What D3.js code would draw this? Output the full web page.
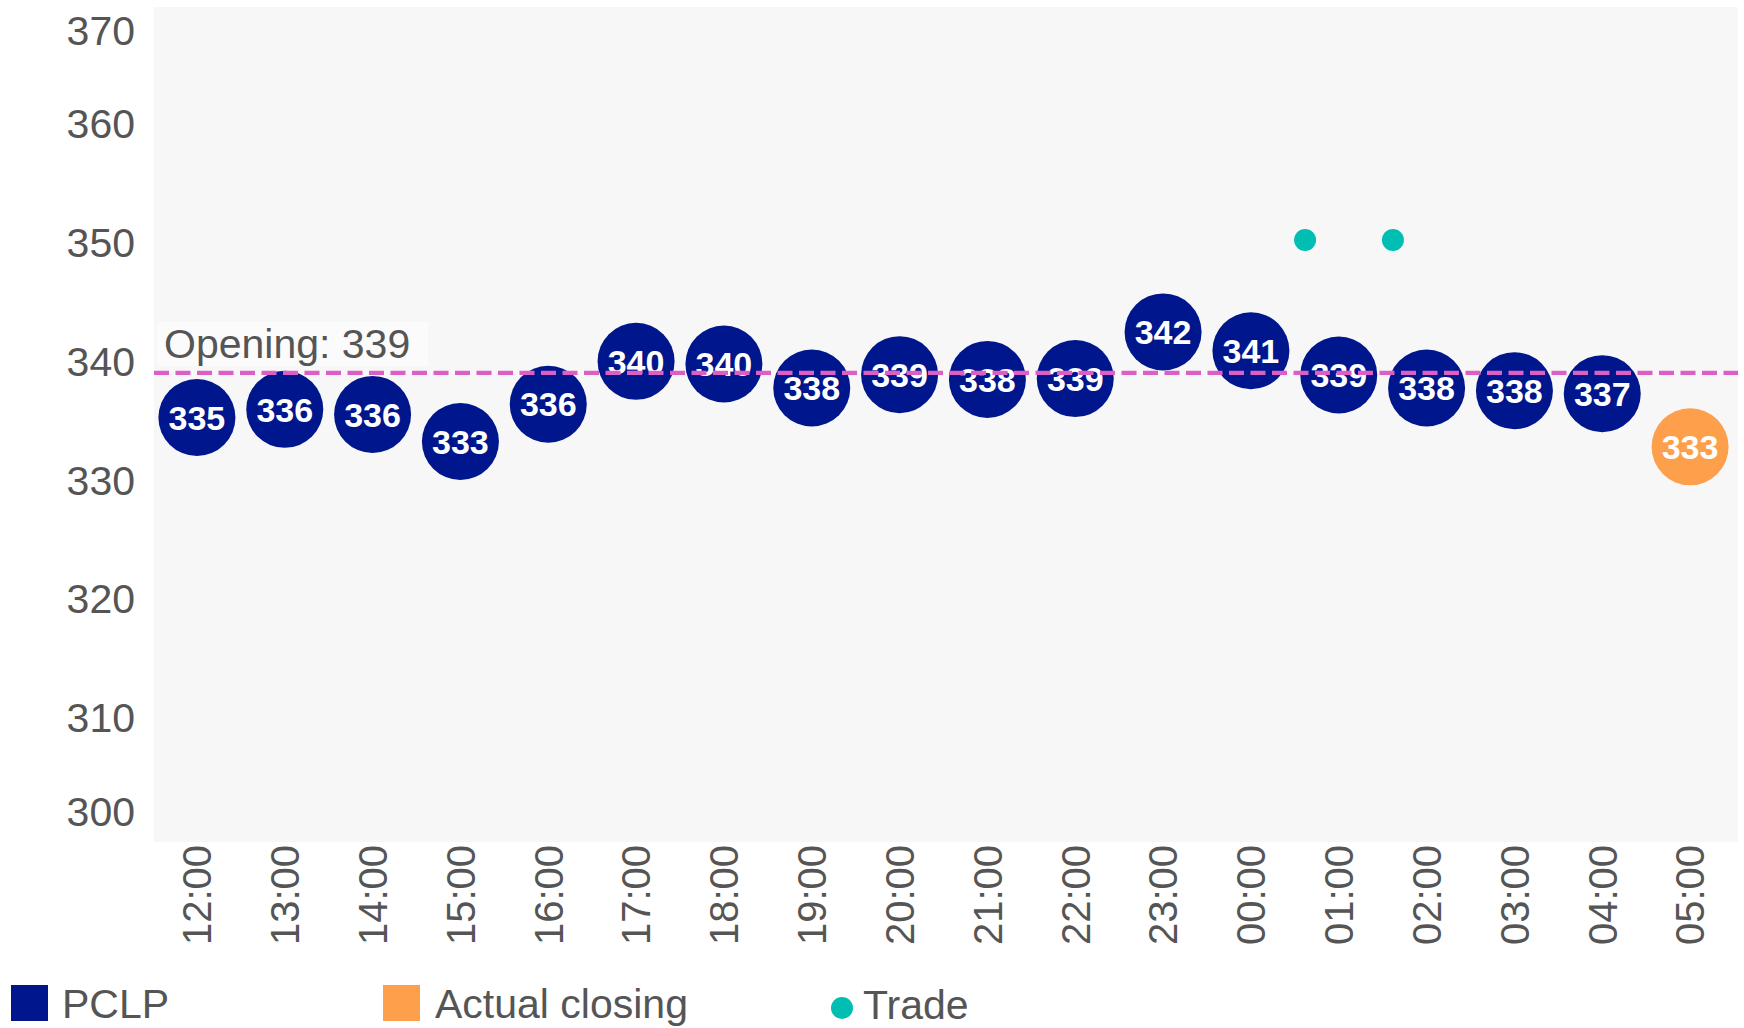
<!DOCTYPE html>
<html>
<head>
<meta charset="utf-8">
<script src="https://cdn.jsdelivr.net/npm/d3@7"></script>
<style>
  html, body { margin: 0; padding: 0; background: #ffffff; }
  svg { display: block; font-family: "Liberation Sans", Arial, sans-serif; }
</style>
</head>
<body>
<svg id="chart" width="1744" height="1028"></svg>
<script>
// ---- data ----
const categories = ["12:00","13:00","14:00","15:00","16:00","17:00","18:00","19:00","20:00","21:00","22:00","23:00","00:00","01:00","02:00","03:00","04:00","05:00"];
const pclpValues = [335.24, 335.93, 335.5, 333.22, 336.36, 339.97, 339.75, 337.73, 338.85, 338.45, 338.52, 342.45, 340.86, 338.82, 337.73, 337.5, 337.25, null];
const closingValues = [null, null, null, null, null, null, null, null, null, null, null, null, null, null, null, null, null, 332.77];
const tradeTimes = ["00:37", "01:37"];
const tradeValues = [350.2, 350.2];
const openingValue = 339;
const yTicks = [300, 310, 320, 330, 340, 350, 360, 370];
const legendItems = ["PCLP", "Actual closing", "Trade"];

// ---- styles ----
const C_PCLP = "#00168c", C_CLOSE = "#fea04b", C_TRADE = "#00bfb2", C_OPEN = "#dd5fc6", C_TEXT = "#555555";

const svg = d3.select("#chart");
const plot = { left: 154, right: 1738, top: 7, bottom: 842 };

const x = d3.scaleBand().domain(categories).range([153, 1734]).padding(0);
const y = d3.scaleLinear().domain([300, 370]).range([835.8, 4.9]);
const cx = c => x(c) + x.bandwidth() / 2;

// background
svg.append("rect")
  .attr("x", plot.left).attr("y", plot.top)
  .attr("width", plot.right - plot.left).attr("height", plot.bottom - plot.top)
  .attr("fill", "#f7f7f7");

// y axis
const yAxis = svg.append("g")
  .attr("transform", `translate(${plot.left},0)`)
  .call(d3.axisLeft(y).tickValues(yTicks).tickSize(0).tickPadding(19).tickFormat(d3.format("d")));
yAxis.select(".domain").remove();
yAxis.selectAll("text")
  .attr("fill", C_TEXT).style("font-size", "41px").style("font-family", "Liberation Sans, Arial, sans-serif")
  .attr("dy", "0.35em");
yAxis.selectAll(".tick").filter(d => d === 370).select("text").attr("y", 25);
yAxis.selectAll(".tick").filter(d => d === 300).select("text").attr("y", -25);

// x axis
const xAxis = svg.append("g")
  .attr("transform", `translate(0,${plot.bottom})`)
  .call(d3.axisBottom(x).tickSize(0));
xAxis.select(".domain").remove();
xAxis.selectAll("text")
  .attr("fill", C_TEXT).style("font-size", "40px").style("font-family", "Liberation Sans, Arial, sans-serif")
  .attr("transform", "rotate(-90)")
  .attr("text-anchor", "end")
  .attr("x", -3).attr("y", 0).attr("dy", "0.36em");

// opening label
const openG = svg.append("g");
openG.append("rect")
  .attr("x", 157).attr("y", 322).attr("width", 271).attr("height", 44)
  .attr("fill", "#fbfbfb");
openG.append("text")
  .attr("x", 164).attr("y", 357.5)
  .attr("fill", C_TEXT).style("font-size", "41px")
  .text("Opening: " + openingValue);

// bubbles
const R = 38.5;
const pclp = categories.map((c, i) => ({ c, v: pclpValues[i] })).filter(d => d.v != null);
const closing = categories.map((c, i) => ({ c, v: closingValues[i] })).filter(d => d.v != null);

function bubbles(data, color) {
  const g = svg.append("g");
  g.selectAll("circle").data(data).join("circle")
    .attr("cx", d => cx(d.c)).attr("cy", d => y(d.v)).attr("r", R)
    .attr("fill", color);
  g.selectAll("text").data(data).join("text")
    .attr("x", d => cx(d.c)).attr("y", d => y(d.v)).attr("dy", "0.36em")
    .attr("text-anchor", "middle").attr("fill", "#ffffff")
    .style("font-size", "34px").style("font-weight", "bold")
    .text(d => Math.round(d.v));
}
bubbles(pclp, C_PCLP);
bubbles(closing, C_CLOSE);

// trades
const tradeX = t => {
  const [h, m] = t.split(":").map(Number);
  const base = String(h).padStart(2, "0") + ":00";
  return cx(base) + (m / 60) * x.bandwidth();
};
svg.append("g").selectAll("circle")
  .data(tradeTimes.map((t, i) => ({ t, v: tradeValues[i] })))
  .join("circle")
  .attr("cx", d => tradeX(d.t)).attr("cy", d => y(d.v)).attr("r", 11)
  .attr("fill", C_TRADE);

// opening line
svg.append("line")
  .attr("x1", plot.left).attr("x2", plot.right)
  .attr("y1", y(openingValue)).attr("y2", y(openingValue))
  .attr("stroke", C_OPEN).attr("stroke-width", 4.3)
  .attr("stroke-dasharray", "15,6.5");

// legend
const lg = svg.append("g");
lg.append("rect").attr("x", 11).attr("y", 985).attr("width", 37).attr("height", 36).attr("fill", C_PCLP);
lg.append("text").attr("x", 62).attr("y", 1018).attr("fill", C_TEXT).style("font-size", "41px").text(legendItems[0]);
lg.append("rect").attr("x", 383).attr("y", 985).attr("width", 37).attr("height", 36).attr("fill", C_CLOSE);
lg.append("text").attr("x", 435).attr("y", 1018).attr("fill", C_TEXT).style("font-size", "41px").text(legendItems[1]);
lg.append("circle").attr("cx", 842).attr("cy", 1008).attr("r", 11).attr("fill", C_TRADE);
lg.append("text").attr("x", 863).attr("y", 1019).attr("fill", C_TEXT).style("font-size", "41px").text(legendItems[2]);
</script>
</body>
</html>
